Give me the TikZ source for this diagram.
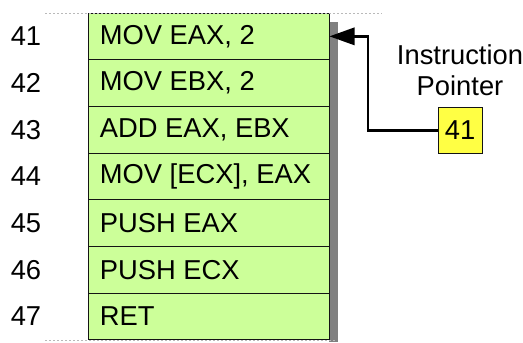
\documentclass[tikz,border=0pt]{standalone}
\usepackage{fontspec}
\setmainfont{Liberation Sans}
\usepackage{tikz}
\usetikzlibrary{arrows.meta, positioning, calc}
\definecolor{codegreen}{RGB}{204,255,153}
\definecolor{ipyellow}{RGB}{255,255,68}
\definecolor{shadowgray}{RGB}{128,128,128}
\definecolor{rulegray}{RGB}{185,185,185}
\definecolor{mydark}{RGB}{20,20,20}
\tikzset{
  instrbox/.style={rectangle, draw=mydark, fill=codegreen,
    minimum width=180.75pt, minimum height=35pt, inner sep=0pt,
    line width=0.6pt},
  instrtext/.style={anchor=west, inner sep=0pt, font=\fontsize{20.5pt}{24pt}\selectfont},
  addrnum/.style={inner sep=0pt, font=\fontsize{20.5pt}{24pt}\selectfont},
  ipbox/.style={rectangle, draw=mydark, fill=ipyellow,
    minimum width=33pt, minimum height=34.5pt, inner sep=0pt,
    line width=0.6pt, font=\fontsize{20.5pt}{24pt}\selectfont},
  arrow/.style={-{Triangle[length=19pt, width=13pt]}, line width=2pt, color=black},
  memrule/.style={dashed, dash pattern=on 1.5pt off 1.5pt, line width=0.6pt, color=rulegray}
}

\begin{document}
\begin{tikzpicture}[x=0.75pt, y=-0.75pt]
  \useasboundingbox (0,0) rectangle (523,342);

  % Shadow of the code column
  \fill[shadowgray] (329,22) rectangle (338,342);

  % Instruction rows
  \foreach \addr/\instr [count=\i from 0] in {41/{MOV EAX, 2}, 42/{MOV EBX, 2}, 43/{ADD EAX, EBX},
      44/{MOV [ECX], EAX}, 45/{PUSH EAX}, 46/{PUSH ECX}, 47/{RET}} {
    \node[instrbox] (r\addr) at (208.5, 36.35+46.7*\i) {};
    \node[instrtext] (t\addr) at ($(r\addr.west)+(12,0)$) {\instr};
    \node[addrnum] (n\addr) at (r\addr.center -| 26,0) {\addr};
  }

  % Memory continues above and below
  \draw[memrule] (45,13) -- (382,13);
  \draw[memrule] (45,340) -- (335,340);

  % Instruction pointer
  \node[ipbox] (ip) at (460, 130.5) {41};
  \node[align=center, inner sep=0pt, font=\fontsize{20.5pt}{23.5pt}\selectfont,
    above=8pt of ip] (iplabel) {Instruction\\Pointer};
  \coordinate (bend) at (368, 130.5);

  % Connection
  \draw[arrow] (ip.west) -- (bend) |- (r41.east);
\end{tikzpicture}
\end{document}
